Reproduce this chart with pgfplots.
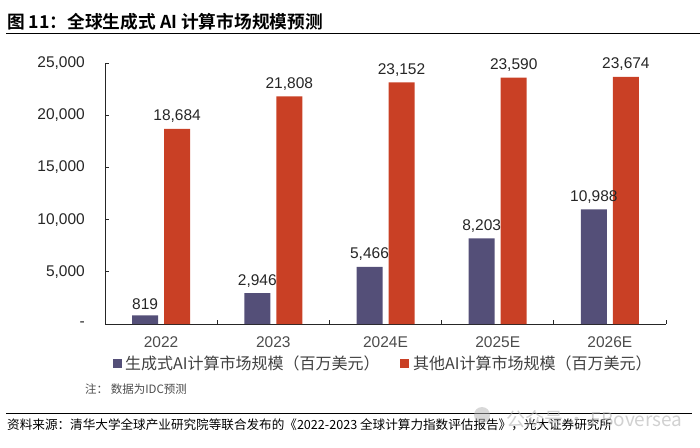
\documentclass[border=0pt]{standalone}
\usepackage{pgfplots}
\pgfplotsset{compat=1.18}
\usepackage{fontspec}
\setmainfont{Liberation Sans}
\newfontfamily\cjk{Noto Sans CJK SC}
\newfontfamily\cjkb{Noto Sans CJK SC Bold}
\definecolor{cblue}{HTML}{544F78}
\definecolor{cred}{HTML}{C94025}
\definecolor{ctxt}{HTML}{262626}
\begin{document}
\begin{tikzpicture}[x=1pt,y=1pt]
\path[use as bounding box] (0,0) rectangle (700,447);
% title and rules
\node[anchor=base west,inner sep=0pt,text=black] at (7,418) {\fontsize{17.7pt}{20pt}\selectfont\cjkb 图 11：全球生成式 AI 计算市场规模预测};
\draw[black,line width=0.9pt] (6,414) -- (700,414);
\draw[black,line width=0.8pt] (6,33.5) -- (692,33.5);
\begin{axis}[
  at={(105pt,123pt)}, anchor=south west,
  scale only axis, width=561pt, height=261pt,
  xmin=-0.5, xmax=4.5, ymin=0, ymax=25000,
  axis x line*=bottom, axis y line*=left,
  axis line style={black!85,line width=0.7pt},
  ybar, bar width=26pt,
  xtick={0,1,2,3,4},
  xticklabels={2022,2023,2024E,2025E,2026E},
  minor xtick={-0.5,0.5,1.5,2.5,3.5,4.5},
  major x tick style={draw=none},
  minor x tick style={draw=black!85,line width=0.7pt},
  ytick={0,5000,10000,15000,20000,25000},
  yticklabels={-,{5,000},{10,000},{15,000},{20,000},{25,000}},
  scaled y ticks=false,
  major y tick style={draw=black!85,line width=0.7pt},
  tick align=inside,
  major tick length=4pt, minor tick length=4pt,
  tick label style={font=\fontsize{15.5pt}{18pt}\selectfont,text=ctxt},
  yticklabel style={inner sep=0pt,xshift=-20pt},
  xticklabel style={inner sep=0pt,yshift=-12pt,text=black!70},
  /pgf/number format/assume math mode=true,
  /pgf/number format/1000 sep={,},
  nodes near coords,
  every node near coord/.append style={font=\fontsize{15.5pt}{18pt}\selectfont,text=ctxt,inner sep=0pt,yshift=6pt},
]
\addplot[ybar,bar shift=-16pt,fill=cblue,draw=none] coordinates {(0,819) (1,2946) (2,5466) (3,8203) (4,10988)};
\addplot[ybar,bar shift=16pt,fill=cred,draw=none] coordinates {(0,18684) (1,21808) (2,23152) (3,23590) (4,23674)};
\end{axis}
% legend
\fill[cblue] (113,79) rectangle (122,88);
\node[anchor=base west,inner sep=0pt,text=black!75] at (125,78) {\fontsize{16pt}{18pt}\selectfont\cjk 生成式AI计算市场规模（百万美元）};
\fill[cred] (400,79) rectangle (409,88);
\node[anchor=base west,inner sep=0pt,text=black!75] at (413,78) {\fontsize{16pt}{18pt}\selectfont\cjk 其他AI计算市场规模（百万美元）};
% note and source
\node[anchor=base west,inner sep=0pt,text=black!70] at (85,54) {\fontsize{11.5pt}{14pt}\selectfont\cjk 注：\ 数据为IDC预测};
\node[anchor=base west,inner sep=0pt,text=black] at (7,18) {\fontsize{12.6pt}{15pt}\selectfont\cjk 资料来源：清华大学全球产业研究院等联合发布的《2022-2023 全球计算力指数评估报告》，光大证券研究所};
% watermark
\fill[black!30,opacity=0.5] (482,32) circle (8);
\node[anchor=base west,inner sep=0pt,text=black!30,opacity=0.6] at (506,21) {\fontsize{19pt}{22pt}\selectfont\cjk 公众号 · FBoversea};
\end{tikzpicture}
\end{document}
